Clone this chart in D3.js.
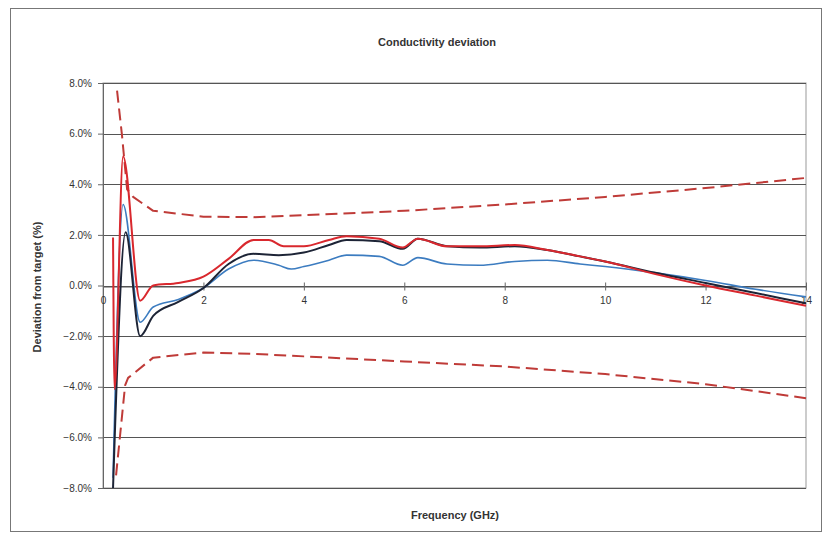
<!DOCTYPE html>
<html>
<head>
<meta charset="utf-8">
<script src="https://cdn.jsdelivr.net/npm/d3@7"></script>
<style>
  body { margin: 0; background: #fff; }
  text { font-family: "Liberation Sans", Arial, sans-serif; fill: #333; }
</style>
</head>
<body>
<div id="chart"></div>
<script>
// data (GHz, % deviation)
var redFreq = [0.2, 0.23, 0.4, 0.74, 1.0, 1.5, 2.0, 2.5, 3.0, 3.3, 3.6, 4.0, 4.5, 4.85, 5.5, 5.97, 6.27, 6.85, 7.5, 8.2, 8.85, 9.5, 10, 11, 12, 13, 14];
var redVals = [1.9, -4.1, 5.1, -0.6, 0.0, 0.1, 0.35, 1.05, 1.8, 1.8, 1.55, 1.55, 1.8, 1.95, 1.85, 1.5, 1.85, 1.55, 1.55, 1.6, 1.4, 1.15, 0.95, 0.45, 0.0, -0.4, -0.8];

var darkFreq = [0.2, 0.45, 0.74, 1.0, 1.5, 2.0, 2.5, 3.0, 3.5, 4.0, 4.5, 4.85, 5.5, 5.97, 6.27, 6.85, 7.5, 8.2, 8.85, 9.5, 10, 11, 12, 13, 14];
var darkVals = [-8.0, 2.1, -2.0, -1.2, -0.65, -0.1, 0.85, 1.25, 1.2, 1.3, 1.6, 1.8, 1.75, 1.45, 1.85, 1.55, 1.5, 1.55, 1.4, 1.15, 0.95, 0.5, 0.1, -0.3, -0.7];

var blueFreq = [0.2, 0.4, 0.74, 1.0, 1.5, 2.0, 2.5, 3.0, 3.5, 3.75, 4.0, 4.5, 4.85, 5.5, 5.97, 6.27, 6.85, 7.5, 8.2, 8.85, 9.5, 10, 11, 12, 13, 14];
var blueVals = [-7.6, 3.2, -1.45, -0.85, -0.55, -0.1, 0.65, 1.0, 0.8, 0.65, 0.75, 1.0, 1.2, 1.15, 0.8, 1.1, 0.85, 0.8, 0.95, 1.0, 0.85, 0.75, 0.5, 0.2, -0.15, -0.45];

var upperFreq = [0.28, 0.38, 0.48, 0.6, 1.0, 2, 3, 4, 6, 8, 10, 12, 14];
var upperVals = [7.7, 5.9, 3.8, 3.5, 2.95, 2.72, 2.7, 2.78, 2.95, 3.2, 3.5, 3.85, 4.25];

var lowerFreq = [0.26, 0.44, 0.5, 1.0, 2, 3, 4, 6, 8, 10, 12, 14];
var lowerVals = [-7.5, -3.95, -3.65, -2.85, -2.65, -2.7, -2.8, -3.0, -3.2, -3.5, -3.9, -4.45];

var xTicks = [0, 2, 4, 6, 8, 10, 12, 14];
var yTicks = [-8, -6, -4, -2, 0, 2, 4, 6, 8];

var svgWidth = 827;
var svgHeight = 542;

var svg = d3.select("#chart")
  .append("svg")
  .attr("width", svgWidth)
  .attr("height", svgHeight);

// outer chart frame
svg.append("rect")
  .attr("x", 10.5)
  .attr("y", 8.5)
  .attr("width", 811)
  .attr("height", 523)
  .attr("fill", "#fff")
  .attr("stroke", "#777")
  .attr("stroke-width", 1);

var x = d3.scaleLinear().domain([0, 14]).range([103, 806]);
var y = d3.scaleLinear().domain([-8, 8]).range([488, 83]);

// plot area border
svg.append("rect")
  .attr("x", 103)
  .attr("y", 83)
  .attr("width", 703)
  .attr("height", 405)
  .attr("fill", "none")
  .attr("stroke", "#999");

// gridlines
svg.append("g")
  .selectAll("line")
  .data(yTicks)
  .enter()
  .append("line")
  .attr("x1", x(0))
  .attr("x2", x(14))
  .attr("y1", d => Math.round(y(d)) + 0.5)
  .attr("y2", d => Math.round(y(d)) + 0.5)
  .attr("stroke", "#555")
  .attr("stroke-width", 1);

// y axis
var leftAxis = d3.axisLeft(y)
  .tickValues(yTicks)
  .tickSize(5)
  .tickPadding(6)
  .tickFormat(d => d3.format(".1f")(d) + "%");

var yAxis = svg.append("g")
  .attr("transform", `translate(${x(0)}, 0)`)
  .call(leftAxis);
yAxis.select(".domain").attr("stroke", "#666");
yAxis.selectAll(".tick line").attr("stroke", "#666");
yAxis.selectAll("text")
  .style("font-size", "10px")
  .attr("fill", "#444");

// x axis crosses at zero
var bottomAxis = d3.axisBottom(x)
  .tickValues(xTicks)
  .tickSizeInner(4)
  .tickSizeOuter(0)
  .tickPadding(6)
  .tickFormat(d3.format("d"));

var xAxis = svg.append("g")
  .attr("transform", `translate(0, ${Math.round(y(0)) + 0.5})`)
  .call(bottomAxis);
xAxis.select(".domain").attr("stroke", "#555");
xAxis.selectAll(".tick line")
  .attr("y1", -4)
  .attr("stroke", "#666");
xAxis.selectAll("text")
  .style("font-size", "10px")
  .attr("fill", "#444");

// smoothed measured lines, straight limit lines
var smoothLine = d3.line()
  .curve(d3.curveMonotoneX)
  .x(d => x(d[0]))
  .y(d => y(d[1]));

var straightLine = d3.line()
  .x(d => x(d[0]))
  .y(d => y(d[1]));

function pairs(f, v) {
  return f.map((d, i) => [d, v[i]]);
}

var series = [
  { data: pairs(upperFreq, upperVals), color: "#bf3b38", width: 2, dash: "12,6", gen: straightLine },
  { data: pairs(lowerFreq, lowerVals), color: "#bf3b38", width: 2, dash: "12,6", gen: straightLine },
  { data: pairs(blueFreq, blueVals), color: "#3c7cc0", width: 1.6, dash: null, gen: smoothLine },
  { data: pairs(darkFreq, darkVals), color: "#1d2436", width: 2, dash: null, gen: smoothLine },
  { data: pairs(redFreq, redVals), color: "#d9282e", width: 2, dash: null, gen: smoothLine }
];

svg.append("g")
  .selectAll("path")
  .data(series)
  .enter()
  .append("path")
  .attr("d", d => d.gen(d.data))
  .attr("fill", "none")
  .attr("stroke", d => d.color)
  .attr("stroke-width", d => d.width)
  .attr("stroke-dasharray", d => d.dash)
  .attr("stroke-linejoin", "round");

// titles
svg.append("text")
  .attr("x", 437)
  .attr("y", 46)
  .attr("text-anchor", "middle")
  .style("font-size", "11px")
  .style("font-weight", "bold")
  .text("Conductivity deviation");

svg.append("text")
  .attr("x", 455)
  .attr("y", 519)
  .attr("text-anchor", "middle")
  .style("font-size", "11px")
  .style("font-weight", "bold")
  .text("Frequency (GHz)");

svg.append("text")
  .attr("transform", "translate(41, 287) rotate(-90)")
  .attr("text-anchor", "middle")
  .style("font-size", "11px")
  .style("font-weight", "bold")
  .text("Deviation from target (%)");
</script>
</body>
</html>
